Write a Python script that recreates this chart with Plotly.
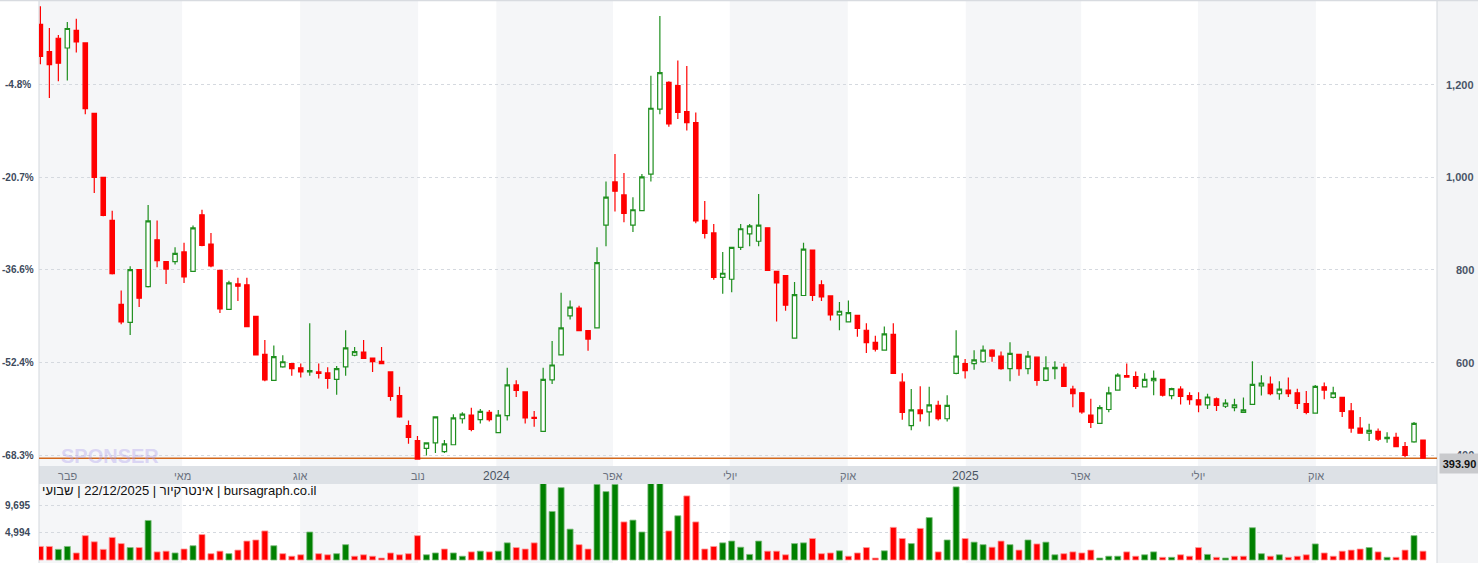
import plotly.graph_objects as go
import pandas as pd

# ---------------- data (weekly candles) ----------------
opens = [1330, 1271, 1300, 1279, 1317, 1290, 1138, 1000, 907, 726,
         687, 801, 764, 865, 818, 818, 839, 797, 919, 856,
         799, 715, 770, 768, 700, 618, 562, 591, 598, 589,
         580, 580, 578, 564, 591, 616, 623, 610, 603, 580,
         529, 464, 432, 415, 427, 408, 423, 479, 487, 477,
         493, 449, 486, 552, 537, 482, 452, 563, 617, 701,
         718, 669, 675, 897, 990, 962, 897, 928, 1007, 1147,
         1205, 1198, 1142, 1118, 907, 880, 784, 780, 849, 878,
         862, 891, 797, 788, 653, 745, 843, 768, 744, 703,
         688, 702, 670, 644, 627, 661, 558, 464, 498, 494,
         508, 479, 577, 598, 598, 602, 627, 614, 587, 618,
         587, 612, 562, 587, 590, 543, 535, 487, 469, 499,
         541, 572, 570, 548, 561, 564, 529, 543, 529, 520,
         509, 522, 506, 503, 493, 510, 550, 554, 533, 541,
         535, 512, 491, 548, 525, 525, 496, 459, 448, 452,
         436, 439, 419, 429, 433]
highs = [1369, 1322, 1307, 1335, 1342, 1290, 1138, 1000, 928, 756,
         808, 801, 940, 907, 818, 849, 859, 896, 930, 880,
         799, 777, 783, 783, 700, 649, 637, 616, 598, 598,
         685, 598, 590, 593, 670, 634, 649, 610, 634, 580,
         548, 475, 442, 427, 483, 433, 489, 493, 503, 500,
         498, 498, 589, 562, 537, 496, 589, 647, 751, 734,
         723, 669, 849, 991, 1050, 1009, 957, 1007, 1219, 1348,
         1207, 1252, 1240, 1140, 949, 899, 839, 849, 899, 899,
         964, 891, 797, 788, 774, 859, 843, 778, 744, 731,
         734, 702, 685, 658, 678, 685, 577, 543, 549, 548,
         518, 530, 670, 608, 627, 637, 629, 624, 644, 618,
         625, 612, 614, 603, 598, 550, 537, 522, 508, 548,
         577, 598, 581, 577, 583, 564, 546, 549, 536, 536,
         533, 525, 521, 522, 525, 603, 573, 570, 560, 568,
         544, 539, 552, 557, 548, 525, 513, 483, 468, 458,
         450, 449, 429, 472, 433]
lows = [1244, 1171, 1207, 1209, 1269, 1136, 966, 916, 790, 683,
        660, 720, 762, 806, 770, 812, 772, 797, 851, 806,
        707, 715, 733, 677, 617, 560, 562, 589, 572, 568,
        572, 566, 544, 531, 572, 614, 609, 580, 598, 518,
        481, 425, 392, 400, 405, 405, 423, 469, 452, 469,
        473, 449, 475, 526, 469, 462, 452, 554, 616, 693,
        668, 626, 675, 851, 926, 903, 882, 928, 991, 1136,
        1109, 1126, 1101, 901, 868, 779, 749, 752, 843, 851,
        851, 799, 689, 712, 653, 745, 733, 733, 691, 670,
        688, 656, 621, 624, 627, 577, 477, 454, 473, 463,
        475, 473, 575, 566, 585, 600, 602, 585, 560, 572,
        575, 550, 560, 564, 549, 504, 490, 459, 469, 493,
        541, 569, 543, 548, 530, 527, 521, 510, 509, 493,
        500, 496, 502, 495, 493, 510, 529, 530, 520, 526,
        500, 489, 491, 521, 523, 483, 449, 448, 431, 431,
        427, 418, 396, 427, 393]
closes = [1261, 1243, 1246, 1321, 1292, 1148, 1000, 918, 792, 688,
          801, 739, 906, 820, 802, 836, 785, 891, 853, 809,
          716, 772, 765, 678, 617, 563, 613, 602, 587, 580,
          583, 577, 566, 587, 632, 624, 609, 602, 598, 527,
          483, 439, 392, 427, 483, 425, 481, 489, 456, 495,
          477, 487, 552, 540, 481, 480, 564, 595, 675, 720,
          669, 651, 816, 957, 970, 922, 930, 1001, 1149, 1226,
          1115, 1140, 1118, 906, 879, 784, 793, 849, 889, 895,
          897, 799, 772, 724, 747, 845, 745, 742, 703, 711,
          708, 674, 643, 629, 662, 577, 493, 498, 490, 509,
          479, 508, 614, 583, 606, 627, 614, 587, 620, 587,
          614, 562, 589, 590, 549, 533, 494, 471, 503, 535,
          573, 569, 549, 564, 566, 530, 544, 527, 520, 509,
          526, 508, 513, 509, 498, 553, 556, 533, 543, 533,
          512, 493, 549, 541, 535, 495, 459, 448, 454, 435,
          439, 419, 400, 469, 393.9]
volumes = [2415, 2415, 1900, 2415, 1256, 4347, 3252, 1900, 4025, 2930,
           2222, 2222, 7052, 1449, 1578, 1256, 1964, 2544, 4540, 1127,
           1578, 1127, 1771, 3381, 3574, 5184, 2544, 1127, 676, 934,
           4991, 1127, 934, 1127, 2737, 676, 934, 676, 354, 1256,
           934, 1127, 4347, 934, 1256, 1964, 1256, 676, 1449, 1578,
           1449, 1578, 3059, 2222, 1964, 3059, 14136, 8662, 12912, 5506,
           2737, 1964, 13492, 12204, 13492, 6794, 7116, 4991, 14973, 13814,
           5184, 7889, 11431, 6794, 1964, 2415, 3059, 3381, 2286, 998,
           3381, 1578, 1578, 934, 2930, 3059, 3832, 1127, 1256, 1642,
           676, 1256, 2222, 354, 1642, 5828, 3832, 2930, 5635, 7567,
           1449, 3574, 13041, 3832, 3188, 2737, 2286, 3381, 2737, 1771,
           3574, 2866, 3188, 934, 1127, 1449, 1256, 1771, 354, 676,
           676, 1449, 676, 934, 1449, 483, 483, 934, 676, 2222,
           998, 483, 354, 676, 676, 5764, 1127, 676, 934, 483,
           676, 934, 2866, 1256, 676, 1578, 1771, 1964, 2222, 1449,
           483, 483, 1771, 4347, 1578]
first_week = '2023-01-10 12:00'

price_ticks = [400, 600, 800, 1000, 1200]
price_tick_text = ['400', '600', '800', '1,000', '1,200']
pct_tick_text = ['-68.3%', '-52.4%', '-36.6%', '-20.7%', '-4.8%']
vol_ticks = [4994, 9695]
vol_tick_text = ['4,994', '9,695']
month_ticks = ['2023-02-01', '2023-05-01', '2023-08-01', '2023-11-01', '2024-01-01',
               '2024-04-01', '2024-07-01', '2024-10-01', '2025-01-01', '2025-04-01',
               '2025-07-01', '2025-10-01']
month_labels = ['פבר', 'מאי', 'אוג', 'נוב', '2024', 'אפר', 'יולי', 'אוק', '2025',
                'אפר', 'יולי', 'אוק']
last_price = 393.90
header_text = 'שבועי\u200e | 22/12/2025 | \u200eאינטרקיור\u200e | bursagraph.co.il'

# ---------------- figure ----------------
W, H = 1478, 563
L, R = 39, 1437  # plot area in px
dates = pd.date_range(first_week, periods=len(closes), freq='7D')
x_start = pd.Timestamp('2023-01-09 10:00')
x_end = pd.Timestamp('2026-01-03 10:00')


def py(pix):  # pixel y (from top) -> paper fraction
    return (H - pix) / H


def px(pix):  # pixel x -> paper fraction
    return (pix - L) / (R - L)


FONT = 'Liberation Sans, Arial, sans-serif'
UP, DOWN = '#1f8f1f', '#ff0000'

fig = go.Figure()
fig.add_trace(go.Candlestick(
    x=dates, open=opens, high=highs, low=lows, close=closes,
    increasing=dict(line=dict(color=UP, width=1.2), fillcolor='#ffffff'),
    decreasing=dict(line=dict(color=DOWN, width=1.2), fillcolor=DOWN),
    whiskerwidth=0, xaxis='x', yaxis='y', showlegend=False, hoverinfo='skip'))

vol_colors, vol_lines = [], []
for i, c in enumerate(closes):
    up = (c > closes[i - 1]) if i > 0 else (c > opens[i])
    vol_colors.append('#008000' if up else '#ff0000')
    vol_lines.append('#7fbf7f' if up else '#ff9a9a')
fig.add_trace(go.Bar(
    x=dates, y=volumes, marker=dict(color=vol_colors, line=dict(color=vol_lines, width=0.8)),
    xaxis='x2', yaxis='y2', showlegend=False, hoverinfo='skip'))

shapes = []
# alternating quarter bands
band_edges = [x_start] + [pd.Timestamp(t) for t in month_ticks] + [x_end]
gray_spans = [(band_edges[0], band_edges[1])]
for k in range(1, len(band_edges) - 1, 2):
    gray_spans.append((band_edges[k], band_edges[k + 1]))
for a, b in gray_spans:
    shapes.append(dict(type='rect', xref='x', yref='paper', x0=a, x1=b, y0=0, y1=1,
                       fillcolor='#f5f6f8', line=dict(width=0), layer='below'))
# date strip
shapes.append(dict(type='rect', xref='paper', yref='paper', x0=0, x1=1,
                   y0=py(484), y1=py(466), fillcolor='#dde1e6', line=dict(width=0), layer='below'))
# right axis panel
shapes.append(dict(type='rect', xref='paper', yref='paper', x0=1, x1=px(W + 2), y0=0, y1=1,
                   fillcolor='#f3f4f6', line=dict(width=0), layer='below'))
# borders
for xx in (0, 1):
    shapes.append(dict(type='line', xref='paper', yref='paper', x0=xx, x1=xx, y0=0, y1=1,
                       line=dict(color='#d3d7dc', width=1), layer='below'))
shapes.append(dict(type='line', xref='paper', yref='paper', x0=px(0), x1=px(W), y0=py(0.5), y1=py(0.5),
                   line=dict(color='#d8dbe0', width=1.5), layer='below'))
# last price line
shapes.append(dict(type='line', xref='paper', yref='y', x0=0, x1=1, y0=last_price, y1=last_price,
                   line=dict(color='#d2691e', width=1.5), layer='below'))

ann = []
for v, t in zip(price_ticks, price_tick_text):
    ann.append(dict(xref='paper', yref='y', x=px(1476), y=v, text=t, showarrow=False,
                    xanchor='right', yanchor='middle',
                    font=dict(family=FONT, size=11, color='#4a5568', weight='bold')))
for v, t in zip(price_ticks, pct_tick_text):
    ann.append(dict(xref='paper', yref='y', x=px(18), y=v, text=t, showarrow=False,
                    xanchor='center', yanchor='middle',
                    font=dict(family=FONT, size=10, color='#3d4a5c', weight='bold')))
for v, t in zip(vol_ticks, vol_tick_text):
    ann.append(dict(xref='paper', yref='y2', x=px(17), y=v, text=t, showarrow=False,
                    xanchor='center', yanchor='middle',
                    font=dict(family=FONT, size=10, color='#3d4a5c', weight='bold')))
for d, t in zip(month_ticks, month_labels):
    is_year = t.isdigit()
    ann.append(dict(xref='x', yref='paper', x=d, y=py(476), text=t, showarrow=False,
                    xanchor='center', yanchor='middle',
                    font=dict(family=FONT, size=12 if is_year else 11,
                              color='#4b5563' if is_year else '#6b7280')))
ann.append(dict(xref='paper', yref='paper', x=px(40), y=py(490), text=header_text, showarrow=False,
                xanchor='left', yanchor='middle', font=dict(family=FONT, size=13, color='#111111')))
ann.append(dict(xref='paper', yref='paper', x=px(110), y=py(456), text='SPONSER', showarrow=False,
                xanchor='center', yanchor='middle',
                font=dict(family=FONT, size=20, color='rgba(175,160,235,0.40)', weight='bold')))
ann.append(dict(xref='paper', yref='y', x=px(1439), y=last_price, yshift=-5, text='393.90',
                showarrow=False, xanchor='left', yanchor='middle', bgcolor='#c9cacd',
                width=37, height=17, borderpad=1, align='center',
                font=dict(family=FONT, size=11, color='#111111', weight='bold')))

fig.update_layout(
    width=W, height=H, margin=dict(l=L, r=W - R, t=0, b=0),
    paper_bgcolor='#ffffff', plot_bgcolor='#ffffff', bargap=0.33,
    showlegend=False, hovermode=False, shapes=shapes, annotations=ann,
    xaxis=dict(domain=[0, 1], range=[x_start, x_end], anchor='y', showticklabels=False,
               showgrid=False, zeroline=False, showline=False, ticks='',
               rangeslider=dict(visible=False), fixedrange=True),
    xaxis2=dict(domain=[0, 1], matches='x', anchor='y2', showticklabels=False,
                showgrid=False, zeroline=False, showline=False, ticks=''),
    yaxis=dict(domain=[py(466), py(2)], range=[377.1, 1378.2], tickmode='array',
               tickvals=price_ticks, showticklabels=False, showgrid=True,
               gridcolor='#d5d9df', griddash='dot', gridwidth=1, zeroline=False, ticks=''),
    yaxis2=dict(domain=[0, py(484)], range=[-535, 13558], tickmode='array',
                tickvals=vol_ticks, showticklabels=False, showgrid=True,
                gridcolor='#d5d9df', griddash='dot', gridwidth=1, zeroline=False, ticks=''),
)

fig.write_html('out.html', config={'displayModeBar': False, 'staticPlot': True},
               post_script="document.body.style.margin='0px';document.body.style.overflow='hidden';")
